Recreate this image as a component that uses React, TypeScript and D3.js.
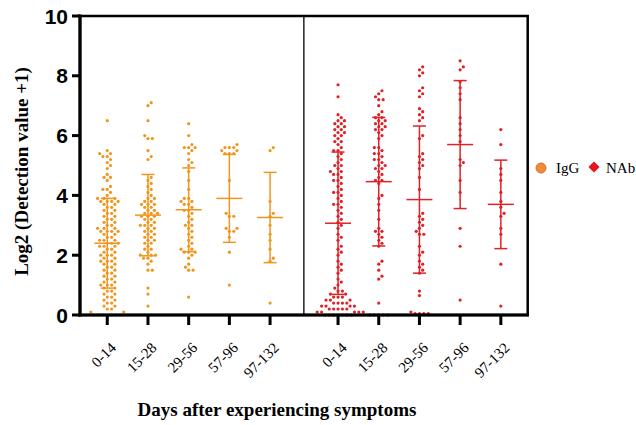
import React from "react";
import * as d3 from "d3";

const categories = ["0-14", "15-28", "29-56", "57-96", "97-132"];

// IgG, log2(detection value + 1)
const igg0_14 = [
  6.5, 5.5, 5.4, 5.4, 5.3, 5.3, 5.2, 5.1, 5.0, 4.9, 4.7, 4.6, 4.6, 4.5, 4.3, 4.2, 4.2, 4.1,
  4.0, 3.9, 3.9, 3.9, 3.8, 3.8, 3.8, 3.8, 3.7, 3.7, 3.6, 3.6, 3.5, 3.5, 3.4, 3.4, 3.3, 3.3,
  3.2, 3.2, 3.1, 3.1, 3.0, 3.0, 2.9, 2.9, 2.9, 2.8, 2.8, 2.8, 2.8, 2.7, 2.7, 2.6, 2.6, 2.5,
  2.5, 2.5, 2.4, 2.4, 2.4, 2.3, 2.3, 2.3, 2.2, 2.2, 2.1, 2.1, 2.0, 2.0, 2.0, 1.9, 1.9, 1.8,
  1.8, 1.8, 1.7, 1.7, 1.6, 1.6, 1.5, 1.5, 1.4, 1.4, 1.3, 1.3, 1.2, 1.2, 1.1, 1.1, 1.0, 1.0,
  1.0, 0.9, 0.9, 0.8, 0.8, 0.7, 0.7, 0.6, 0.6, 0.5, 0.5, 0.4, 0.4, 0.3, 0.3, 0.2, 0.2, 0.1,
  0.1, 0, 0, 0, 0, 0, 0, 0,
];
const igg15_28 = [
  7.1, 7.0, 6.5, 6.0, 5.9, 5.9, 5.5, 5.3, 5.2, 4.6, 4.5, 4.4, 4.3, 4.2, 4.1, 4.0, 3.9, 3.9,
  3.8, 3.8, 3.7, 3.7, 3.7, 3.6, 3.6, 3.5, 3.5, 3.4, 3.4, 3.4, 3.3, 3.3, 3.3, 3.2, 3.2, 3.1,
  3.1, 3.0, 3.0, 3.0, 2.9, 2.9, 2.8, 2.8, 2.7, 2.7, 2.6, 2.6, 2.5, 2.5, 2.4, 2.4, 2.3, 2.2,
  2.2, 2.1, 2.0, 2.0, 2.0, 1.9, 1.9, 1.8, 1.7, 1.5, 1.5, 0.9, 0.7, 0.3,
];
const igg29_56 = [
  6.4, 6.0, 5.7, 5.6, 5.6, 5.6, 5.5, 5.4, 5.2, 5.1, 5.0, 4.8, 4.5, 4.2, 3.9, 3.9, 3.8, 3.8,
  3.7, 3.7, 3.6, 3.5, 3.5, 3.4, 3.3, 3.2, 3.1, 3.0, 3.0, 2.9, 2.8, 2.7, 2.6, 2.5, 2.4, 2.3,
  2.2, 2.2, 2.1, 2.1, 2.1, 2.0, 1.9, 1.7, 1.6, 1.5, 1.5, 0.6,
];
const igg57_96 = [
  5.7, 5.6, 5.6, 5.6, 5.5, 5.5, 5.4, 5.4, 5.4, 4.5, 3.4, 3.3, 3.3, 2.9, 2.9, 2.8, 2.8, 2.6,
  2.1, 1.0,
];
const igg97_132 = [5.6, 5.5, 3.8, 3.4, 3.3, 3.0, 2.7, 2.5, 2.2, 1.9, 1.8, 0.4];

// NAb
const nab0_14 = [
  7.7, 7.3, 6.7, 6.6, 6.5, 6.5, 6.4, 6.4, 6.3, 6.3, 6.2, 6.2, 6.1, 6.1, 6.0, 6.0, 5.9, 5.8,
  5.8, 5.7, 5.6, 5.5, 5.5, 5.4, 5.3, 5.2, 5.1, 5.0, 5.0, 4.9, 4.8, 4.8, 4.7, 4.7, 4.6, 4.5,
  4.5, 4.4, 4.3, 4.2, 4.1, 4.1, 4.0, 3.9, 3.8, 3.7, 3.7, 3.6, 3.5, 3.4, 3.3, 3.2, 3.1, 3.0,
  2.9, 2.7, 2.6, 2.5, 2.3, 2.2, 2.1, 2.0, 1.8, 1.7, 1.6, 1.5, 1.4, 1.2, 1.1, 1.0, 0.9, 0.8,
  0.8, 0.7, 0.7, 0.6, 0.6, 0.6, 0.5, 0.5, 0.5, 0.4, 0.4, 0.4, 0.4, 0.3, 0.3, 0.3, 0.3, 0.2,
  0.2, 0.2, 0.2, 0.2, 0.1, 0.1, 0.1, 0.1, 0.1, 0, 0, 0, 0, 0, 0, 0,
];
const nab15_28 = [
  7.5, 7.4, 7.3, 7.2, 7.2, 7.0, 6.8, 6.7, 6.6, 6.6, 6.5, 6.5, 6.4, 6.4, 6.3, 6.3, 6.2, 6.2,
  6.1, 6.0, 5.9, 5.6, 5.6, 5.5, 5.4, 5.4, 5.3, 5.2, 5.2, 5.1, 5.0, 5.0, 4.9, 4.9, 4.8, 4.7,
  4.6, 4.5, 4.5, 4.4, 4.0, 3.9, 3.7, 3.5, 3.2, 2.9, 2.8, 2.8, 2.7, 2.6, 2.5, 2.4, 2.3, 1.8,
  1.7, 1.5, 1.3, 1.2, 0.4, 0, 0, 0, 0, 0,
];
const nab29_56 = [
  8.3, 8.2, 8.1, 8.0, 7.6, 7.5, 7.4, 7.3, 6.9, 6.8, 6.7, 6.6, 6.5, 6.0, 5.9, 5.4, 5.3, 5.2,
  5.1, 5.0, 4.9, 4.6, 4.2, 3.4, 3.3, 3.2, 3.1, 3.0, 2.9, 2.8, 2.7, 2.7, 2.3, 2.1, 2.0, 1.8,
  1.7, 1.6, 1.5, 1.4, 0.8, 0.65, 0.1, 0.05, 0.05, 0.05, 0.05,
];
const nab57_96 = [
  8.5, 8.3, 8.2, 7.8, 7.6, 7.4, 7.2, 6.6, 6.4, 6.2, 6.0, 5.8, 5.2, 5.1, 5.0, 4.5, 4.1, 2.9,
  2.3, 0.5,
];
const nab97_132 = [6.2, 5.7, 4.9, 4.7, 4.5, 4.1, 3.8, 3.6, 3.4, 3.3, 2.9, 2.7, 1.7, 0.3];

const iggMean = [2.4, 3.34, 3.52, 3.9, 3.26];
const iggSD = [1.5, 1.36, 1.4, 1.47, 1.51];
const nabMean = [3.07, 4.46, 3.86, 5.7, 3.7];
const nabSD = [2.38, 2.15, 2.46, 2.14, 1.48];

const yTicks = [0, 2, 4, 6, 8, 10];

const IGG_COLOR = "#F0961E";
const NAB_COLOR = "#DE2228";
const SERIF = "'Liberation Serif', 'Times New Roman', serif";
const SANS = "'Liberation Sans', Arial, sans-serif";

const width = 636;
const height = 425;

const x = d3.scaleLinear().domain([-0.67, 10.33]).range([80, 527.7]);
const y = d3.scaleLinear().domain([0, 10]).range([315, 16]);

// simple beeswarm: place each dot as close to the center as it fits
function swarm(values: number[], diameter: number) {
  const sorted = [...values].sort((a, b) => a - b);
  const placed: { v: number; py: number; dx: number }[] = [];
  for (const v of sorted) {
    const py = y(v);
    const near = placed.filter((p) => Math.abs(p.py - py) < diameter);
    const cands = [0];
    near.forEach((p) => {
      const off = Math.sqrt(diameter * diameter - (p.py - py) ** 2);
      cands.push(p.dx + off, p.dx - off);
    });
    cands.sort((a, b) => Math.abs(a) - Math.abs(b));
    const dx =
      cands.find((c) =>
        near.every((p) => (p.dx - c) ** 2 + (p.py - py) ** 2 >= diameter * diameter - 0.01)
      ) ?? 0;
    placed.push({ v, py, dx });
  }
  return placed;
}

const groups = [
  { name: "IgG", color: IGG_COLOR, offset: 0, values: [igg0_14, igg15_28, igg29_56, igg57_96, igg97_132], mean: iggMean, sd: iggSD },
  { name: "NAb", color: NAB_COLOR, offset: 5.67, values: [nab0_14, nab15_28, nab29_56, nab57_96, nab97_132], mean: nabMean, sd: nabSD },
];

export default function App() {
  const diamond = d3.symbol(d3.symbolSquare, 62)();
  return (
    <svg width={width} height={height} style={{ position: "absolute", left: 0, top: 0, background: "#fff" }}>
      {groups.map((g) => (
        <g key={g.name}>
          {g.values.map((vals, i) => {
            const cx = x(i + g.offset);
            const pts = swarm(vals, 4.4);
            return (
              <g key={i}>
                {pts.map((p, j) => (
                  <circle key={j} cx={cx + p.dx} cy={p.py} r={1.6} fill={g.color} />
                ))}
                <g stroke={g.color} strokeWidth={1.5}>
                  <line x1={cx} x2={cx} y1={y(g.mean[i] + g.sd[i])} y2={y(Math.max(0, g.mean[i] - g.sd[i]))} />
                  <line x1={cx - 13} x2={cx + 13} y1={y(g.mean[i])} y2={y(g.mean[i])} />
                  <line x1={cx - 6.5} x2={cx + 6.5} y1={y(g.mean[i] + g.sd[i])} y2={y(g.mean[i] + g.sd[i])} />
                  <line x1={cx - 6.5} x2={cx + 6.5} y1={y(g.mean[i] - g.sd[i])} y2={y(g.mean[i] - g.sd[i])} />
                </g>
              </g>
            );
          })}
        </g>
      ))}

      {/* divider */}
      <line x1={x(4.83)} x2={x(4.83)} y1={y(10)} y2={y(0)} stroke="#222" strokeWidth={1.5} />

      {/* frame */}
      <rect x={x(-0.67)} y={y(10)} width={x(10.33) - x(-0.67)} height={y(0) - y(10)} fill="none" stroke="#000" strokeWidth={2.5} />
      <line x1={x(-0.67)} x2={x(-0.67)} y1={y(10) - 1.5} y2={y(0) + 1.5} stroke="#000" strokeWidth={3.2} />
      <line x1={x(-0.67) - 1.5} x2={x(10.33) + 1.2} y1={y(0)} y2={y(0)} stroke="#000" strokeWidth={3.2} />

      {/* y axis */}
      {yTicks.map((t) => (
        <g key={t}>
          <line x1={72} x2={80} y1={y(t)} y2={y(t)} stroke="#000" strokeWidth={3} />
          <text x={68} y={y(t)} dy="0.36em" textAnchor="end" fontFamily={SANS} fontWeight="bold" fontSize={21}>
            {t}
          </text>
        </g>
      ))}
      <text
        transform={`translate(28,${(y(0) + y(10)) / 2 + 6}) rotate(-90)`}
        textAnchor="middle"
        fontFamily={SERIF}
        fontWeight="bold"
        fontSize={19}
      >
        Log2 (Detection value +1)
      </text>

      {/* x axis */}
      {groups.map((g) =>
        categories.map((c, i) => {
          const cx = x(i + g.offset);
          return (
            <g key={g.name + c}>
              <line x1={cx} x2={cx} y1={y(0)} y2={y(0) + 10} stroke="#000" strokeWidth={3} />
              <text
                transform={`translate(${cx + 6},${y(0) + 30}) rotate(-45)`}
                textAnchor="end"
                dy="0.35em"
                fontFamily={SERIF}
                fontSize={15}
              >
                {c}
              </text>
            </g>
          );
        })
      )}
      <text x={277} y={416} textAnchor="middle" fontFamily={SERIF} fontWeight="bold" fontSize={19}>
        Days after experiencing symptoms
      </text>

      {/* legend */}
      <circle cx={541} cy={168} r={5} fill="#F08A3C" stroke="#E0702A" strokeWidth={1} />
      <text x={556} y={173} fontFamily={SERIF} fontSize={15}>IgG</text>
      <path d={diamond} transform="translate(594,167) rotate(45)" fill="#E8141B" />
      <text x={606} y={173} fontFamily={SERIF} fontSize={15}>NAb</text>
    </svg>
  );
}
